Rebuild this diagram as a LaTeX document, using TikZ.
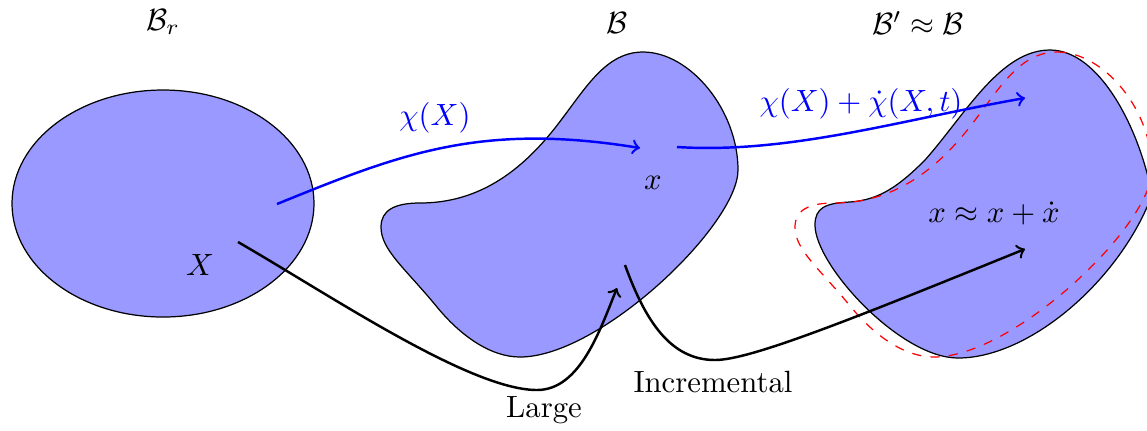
\documentclass[tikz,border=0pt]{standalone}
\newcommand{\bodyshape}[1]{\draw[#1] (643,52) .. controls (690,52) and (738,110) .. (738,170)
    .. controls (738,225) and (600,357) .. (520,357)
    .. controls (490,357) and (460,335) .. (437,307)
    .. controls (405,268) and (381,250) .. (381,227)
    .. controls (381,210) and (395,203) .. (420,203)
    .. controls (470,203) and (510,180) .. (545,140)
    .. controls (580,100) and (600,52) .. cycle;}

\begin{document}
\begin{tikzpicture}[x=0.01143cm, y=-0.01143cm,
  body/.style={draw=black, fill=blue!40},
  map/.style={->, thick, blue},
  flow/.style={->, thick}]
  \useasboundingbox (0,0) rectangle (1147,430);
  \draw[body] (163,203.5) ellipse [x radius=151, y radius=113.5];
  \bodyshape{body}
  \draw[body] (1050,50) .. controls (1100,50) and (1140,130) .. (1152,195)
    .. controls (1120,280) and (1030,358) .. (958,358)
    .. controls (900,358) and (815,265) .. (815,225)
    .. controls (815,208) and (825,203) .. (850,202)
    .. controls (880,200) and (900,185) .. (925,160)
    .. controls (965,115) and (1000,50) .. cycle;
  \begin{scope}[shift={(414,0)}]
    \bodyshape{red, dashed}
  \end{scope}

  \node (Br) at (163,22) {$\mathcal{B}_r$};
  \node (B) at (617,23) {$\mathcal{B}$};
  \node (Bp) at (918,23) {$\mathcal{B}'\approx\mathcal{B}$};
  \node (Xl) at (200,265) {$X$};
  \node (xl) at (653,183) {$x$};
  \node[blue] (chi) at (435,118) {$\chi(X)$};
  \node[blue] (chidot) at (861,104) {$\chi(X)+\dot{\chi}(X,t)$};
  \node (xapprox) at (994,213) {$x\approx x+\dot{x}$};
  \node (large) at (544,410) {Large};
  \node (incr) at (713,382) {Incremental};

  \coordinate (X0) at (277,204);
  \coordinate (x0) at (640,148);
  \coordinate (x1) at (677,147);
  \coordinate (x2) at (1025,98);
  \coordinate (X1) at (238,242);
  \coordinate (low1) at (537,390);
  \coordinate (xa) at (617,288);
  \coordinate (xb) at (625,265);
  \coordinate (low2) at (715,360);
  \coordinate (xc) at (1025,249);

  \draw[map] (X0) .. controls (400,154) and (480,122) .. (x0);
  \draw[map] (x1) .. controls (790,154) and (900,120) .. (x2);
  \draw[flow] (X1) .. controls (330,295) and (470,390) .. (low1)
    .. controls (580,390) and (600,330) .. (xa);
  \draw[flow] (xb) .. controls (645,320) and (670,360) .. (low2)
    .. controls (750,360) and (850,320) .. (xc);
\end{tikzpicture}
\end{document}
